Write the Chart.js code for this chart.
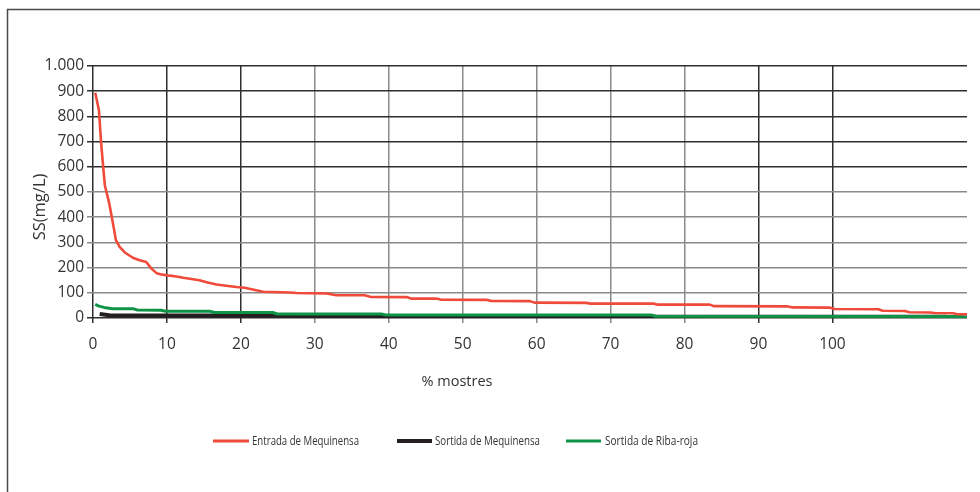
<!DOCTYPE html>
<html>
<head>
<meta charset="utf-8">
<script src="https://cdn.jsdelivr.net/npm/chart.js@4/dist/chart.umd.min.js"></script>
<style>
  html, body { margin: 0; padding: 0; background: #fff; }
  #wrap { position: relative; width: 980px; height: 492px; }
</style>
</head>
<body>
<div id="wrap"><canvas id="c" width="980" height="492"></canvas></div>
<script>
// Duration-style curves: suspended solids vs. % of samples exceeding that value
const seriesNames = ['Entrada de Mequinensa', 'Sortida de Mequinensa', 'Sortida de Riba-roja'];

const entradaPct = [0.3, 0.8, 1.1, 1.6, 2.2, 2.7, 3.1, 3.6, 4.3, 5.4, 6.3, 7.2, 7.9, 8.6, 9.4,
  10.4, 11.3, 12.2, 13.3, 14.4, 15.5, 16.7, 18.0, 19.4, 20.5, 21.6, 23.0, 26.6, 27.5, 31.6,
  32.9, 36.7, 37.5, 42.4, 43.0, 46.4, 47.0, 53.2, 53.8, 59.1, 59.7, 66.7, 67.3, 75.8, 76.4,
  83.4, 84.0, 94.0, 94.6, 99.7, 100.3, 106.2, 106.8, 109.8, 110.4, 113.2, 113.8, 116.3, 116.9, 118.2];
const entradaSS = [894, 825, 693, 527, 454, 375, 309, 282, 260, 239, 229, 222, 196, 178, 172,
  168, 165, 160, 155, 150, 141, 133, 128, 123, 120, 113, 104, 101, 99, 97,
  90, 90, 84, 83, 77, 77, 73, 72, 68, 67, 61, 60, 57, 57, 53,
  53, 47, 46, 42, 41, 36, 35, 29, 28, 23, 22, 20, 19, 15, 15];

const sortidaMeqPct = [0.9, 2.2, 2.8, 27.0, 27.8, 115.3, 116.0, 118.2];
const sortidaMeqSS  = [16, 11, 10, 10, 5, 5, 1, 1];

const sortidaRibaPct = [0.3, 0.8, 1.5, 2.6, 5.4, 6.0, 9.2, 9.8, 15.8, 16.4, 24.3, 24.9,
  39.0, 39.6, 75.5, 76.1, 117.5, 118.2];
const sortidaRibaSS  = [54, 47, 42, 37, 37, 32, 31, 27, 27, 22, 22, 16, 16, 12, 12, 7, 6, 3];

const xTickValues = [0, 10, 20, 30, 40, 50, 60, 70, 80, 90, 100];
const yTickValues = [0, 100, 200, 300, 400, 500, 600, 700, 800, 900, 1000];

const colors = ['#ef4a3a', '#231f20', '#0f9447'];

const toPoints = (xs, ys) => xs.map((x, i) => ({ x: x, y: ys[i] }));

const FONT = "'Open Sans', 'DejaVu Sans', sans-serif";

// Frame, axis titles and legend
const decor = {
  id: 'decor',
  beforeDraw(chart) {
    const c = chart.ctx;
    c.save();
    c.strokeStyle = '#4a4a4a';
    c.lineWidth = 1.5;
    c.beginPath();
    c.moveTo(7.5, 492);
    c.lineTo(7.5, 9.5);
    c.lineTo(980, 9.5);
    c.stroke();
    c.restore();
  },
  afterDraw(chart) {
    const c = chart.ctx;
    c.save();
    c.fillStyle = '#333';
    c.font = '16.5px ' + FONT;
    c.textAlign = 'center';
    c.textBaseline = 'middle';
    c.translate(40, 207);
    c.rotate(-Math.PI / 2);
    c.fillText('SS(mg/L)', 0, 0);
    c.restore();

    c.save();
    c.fillStyle = '#333';
    c.font = '14.5px ' + FONT;
    c.textAlign = 'center';
    c.textBaseline = 'middle';
    c.fillText('% mostres', 457, 382);
    c.restore();

    // legend entries: swatch span, text start and text width
    const items = [
      { x0: 213, x1: 249, tx: 252, tw: 107, w: 3 },
      { x0: 397, x1: 432, tx: 435, tw: 105, w: 4 },
      { x0: 566, x1: 601, tx: 605, tw: 93, w: 3 }
    ];
    chart.data.datasets.forEach((ds, i) => {
      const it = items[i];
      c.save();
      c.strokeStyle = ds.borderColor;
      c.lineWidth = it.w;
      c.beginPath();
      c.moveTo(it.x0, 441);
      c.lineTo(it.x1, 441);
      c.stroke();
      c.fillStyle = '#333';
      c.font = "13px " + FONT;
      c.textAlign = 'left';
      c.textBaseline = 'middle';
      const mw = c.measureText(ds.label).width;
      const k = Math.min(1, it.tw / mw);
      c.translate(it.tx, 441);
      c.scale(k, 1);
      c.fillText(ds.label, 0, 0);
      c.restore();
    });
  }
};

const dark = '#2e2e2e', grey = '#8a8a8a';

new Chart(document.getElementById('c'), {
  type: 'line',
  data: {
    datasets: [
      { label: seriesNames[0], data: toPoints(entradaPct, entradaSS), borderColor: colors[0],
        borderWidth: 2.6, order: 0 },
      { label: seriesNames[1], data: toPoints(sortidaMeqPct, sortidaMeqSS), borderColor: colors[1],
        borderWidth: 4, order: 2 },
      { label: seriesNames[2], data: toPoints(sortidaRibaPct, sortidaRibaSS), borderColor: colors[2],
        borderWidth: 3, order: 1 }
    ]
  },
  options: {
    responsive: false,
    animation: false,
    elements: { point: { radius: 0 }, line: { tension: 0, fill: false, borderJoinStyle: 'round' } },
    layout: { padding: { left: 0, top: 66, right: 13, bottom: 0 } },
    plugins: { legend: { display: false }, tooltip: { enabled: false } },
    scales: {
      x: {
        type: 'linear',
        min: 0,
        max: 118.2,
        afterBuildTicks: s => { s.ticks = xTickValues.map(v => ({ value: v })); },
        afterFit: s => { s.height = 174; },
        border: { display: false },
        grid: {
          lineWidth: 1.5,
          tickLength: 5,
          color: ctx => {
            const v = ctx.tick ? ctx.tick.value : 0;
            return (v >= 30 && v <= 80) ? grey : dark;
          }
        },
        ticks: {
          autoSkip: false,
          maxRotation: 0,
          padding: 12,
          color: '#333',
          font: { family: FONT, size: 15.5 }
        }
      },
      y: {
        min: 0,
        max: 1000,
        afterBuildTicks: s => { s.ticks = yTickValues.map(v => ({ value: v })); },
        afterFit: s => { s.width = 93; },
        border: { display: false },
        grid: {
          lineWidth: 1.5,
          tickLength: 6,
          color: ctx => {
            const v = ctx.tick ? ctx.tick.value : 0;
            return (v >= 600 || v === 0) ? dark : grey;
          }
        },
        ticks: {
          padding: 3,
          color: '#333',
          font: { family: FONT, size: 15.5 },
          callback: v => v >= 1000 ? (Math.floor(v / 1000) + '.' + String(v % 1000).padStart(3, '0')) : String(v)
        }
      }
    }
  },
  plugins: [decor]
});
</script>
</body>
</html>
